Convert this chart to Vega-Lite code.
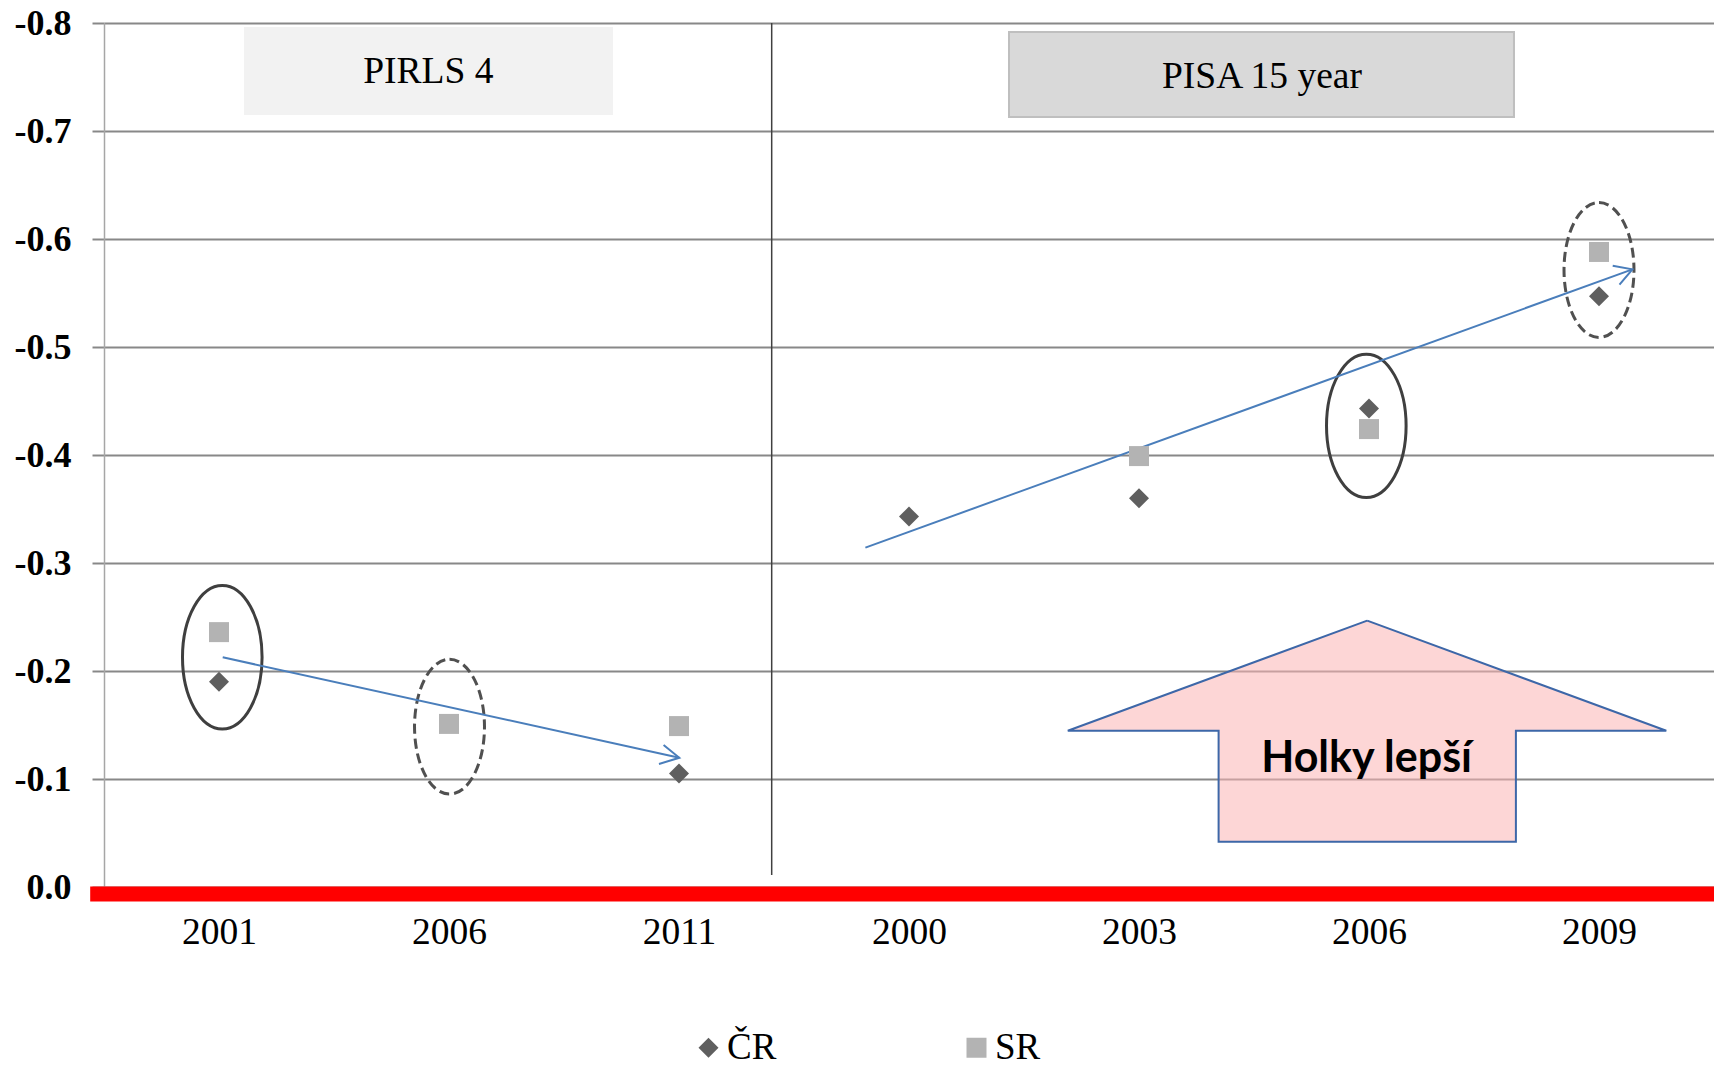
{
  "$schema": "https://vega.github.io/schema/vega-lite/v6.json",
  "width": 1610,
  "height": 864,
  "autosize": {"type": "none"},
  "padding": {"left": 104, "top": 23, "right": 0, "bottom": 179},
  "background": "white",
  "config": {"view": {"stroke": null}},
  "layer": [
    {
      "data": {"values": [
        {"study": "PIRLS", "year": "2001", "pos": 0.5, "series": "ČR", "value": -0.19},
        {"study": "PISA", "year": "2009", "pos": 6.5, "series": "SR", "value": -0.588}
      ]},
      "mark": {"type": "point", "opacity": 0, "size": 1},
      "encoding": {
        "x": {
          "field": "pos", "type": "quantitative", "title": null,
          "scale": {"domain": [0, 7], "nice": false, "zero": false},
          "axis": {
            "values": [0.5, 1.5, 2.5, 3.5, 4.5, 5.5, 6.5],
            "labelExpr": "['2001','2006','2011','2000','2003','2006','2009'][floor(datum.value)]",
            "title": null, "labelFont": "Liberation Serif", "labelFontSize": 37.5, "labelColor": "black",
            "ticks": false, "tickSize": 0, "domain": false, "grid": false, "labelPadding": 26,
            "labelFlush": false, "labelOverlap": false, "labelBound": false
          }
        },
        "y": {
          "field": "value", "type": "quantitative", "title": null,
          "scale": {"domain": [-0.8, 0], "reverse": true, "nice": false, "zero": false},
          "axis": {
            "values": [-0.8, -0.7, -0.6, -0.5, -0.4, -0.3, -0.2, -0.1, 0],
            "labelExpr": "datum.value < 0 ? '-' + format(-datum.value, '.1f') : format(datum.value, '.1f')",
            "title": null,
            "labelFont": "Liberation Serif", "labelFontWeight": "bold", "labelFontSize": 36, "labelColor": "black",
            "labelPadding": 21, "tickSize": 12, "tickColor": "#888888", "tickWidth": 2,
            "domainColor": "#a6a6a6", "domainWidth": 1.5,
            "grid": true, "gridColor": "#888888", "gridWidth": 2,
            "labelFlush": false, "labelOverlap": false, "labelBound": false
          }
        }
      }
    },
    {
      "data": {"values": [{"label": "PIRLS 4", "x0": 0.6087, "x1": 2.213, "y0": -0.7963, "y1": -0.7148}]},
      "mark": {"type": "rect", "fill": "#f2f2f2"},
      "encoding": {
        "x": {"field": "x0", "type": "quantitative", "title": null},
        "x2": {"field": "x1"},
        "y": {"field": "y0", "type": "quantitative", "title": null},
        "y2": {"field": "y1"}
      }
    },
    {
      "data": {"values": [{"label": "PISA 15 year", "x0": 3.9348, "x1": 6.1304, "y0": -0.7917, "y1": -0.713}]},
      "mark": {"type": "rect", "fill": "#d9d9d9", "stroke": "#bfbfbf", "strokeWidth": 2},
      "encoding": {
        "x": {"field": "x0", "type": "quantitative", "title": null},
        "x2": {"field": "x1"},
        "y": {"field": "y0", "type": "quantitative", "title": null},
        "y2": {"field": "y1"}
      }
    },
    {
      "data": {"values": [
        {"label": "PIRLS 4", "pos": 1.4104, "value": -0.7542},
        {"label": "PISA 15 year", "pos": 5.0348, "value": -0.75}
      ]},
      "mark": {"type": "text", "font": "Liberation Serif", "fontSize": 37.5, "color": "black", "baseline": "middle", "align": "center"},
      "encoding": {
        "x": {"field": "pos", "type": "quantitative", "title": null},
        "y": {"field": "value", "type": "quantitative", "title": null},
        "text": {"field": "label"}
      }
    },
    {
      "data": {"values": [{"pos": 2.903, "top": -0.8, "bottom": -0.011}]},
      "mark": {"type": "rule", "color": "#404040", "strokeWidth": 1.5},
      "encoding": {
        "x": {"field": "pos", "type": "quantitative", "title": null},
        "y": {"field": "top", "type": "quantitative", "title": null},
        "y2": {"field": "bottom"}
      }
    },
    {
      "data": {"values": [
        {"seq": 0, "pos": 5.4922, "value": -0.2466},
        {"seq": 1, "pos": 6.7926, "value": -0.1447},
        {"seq": 2, "pos": 6.1387, "value": -0.1447},
        {"seq": 3, "pos": 6.1387, "value": -0.0419},
        {"seq": 4, "pos": 4.8461, "value": -0.0419},
        {"seq": 5, "pos": 4.8461, "value": -0.1447},
        {"seq": 6, "pos": 4.1904, "value": -0.1447},
        {"seq": 7, "pos": 5.4922, "value": -0.2466}
      ]},
      "mark": {"type": "line", "fill": "#fcb4b4", "fillOpacity": 0.55, "stroke": "#3d67a8", "strokeWidth": 2},
      "encoding": {
        "x": {"field": "pos", "type": "quantitative", "title": null},
        "y": {"field": "value", "type": "quantitative", "title": null},
        "order": {"field": "seq", "type": "quantitative"}
      }
    },
    {
      "data": {"values": [{"label": "Holky lepší", "pos": 5.4896, "value": -0.1185}]},
      "mark": {"type": "text", "font": "Lato", "fontWeight": "bold", "fontSize": 43, "color": "black", "baseline": "middle", "align": "center"},
      "encoding": {
        "x": {"field": "pos", "type": "quantitative", "title": null},
        "y": {"field": "value", "type": "quantitative", "title": null},
        "text": {"field": "label"}
      }
    },
    {
      "data": {"values": [
        {"pos": 0.5143, "value": -0.2127},
        {"pos": 5.4883, "value": -0.427}
      ]},
      "mark": {"type": "point", "shape": "M0,-1C0.3065,-1,0.555,-0.5523,0.555,0C0.555,0.5523,0.3065,1,0,1C-0.3065,1,-0.555,0.5523,-0.555,0C-0.555,-0.5523,-0.3065,-1,0,-1Z", "size": 20564, "filled": false, "stroke": "#3f3f3f", "strokeWidth": 3, "opacity": 1},
      "encoding": {
        "x": {"field": "pos", "type": "quantitative", "title": null},
        "y": {"field": "value", "type": "quantitative", "title": null}
      }
    },
    {
      "data": {"values": [
        {"pos": 1.5022, "value": -0.1484},
        {"pos": 6.5, "value": -0.5713}
      ]},
      "mark": {"type": "point", "shape": "M0,-1C0.2866,-1,0.519,-0.5523,0.519,0C0.519,0.5523,0.2866,1,0,1C-0.2866,1,-0.519,0.5523,-0.519,0C-0.519,-0.5523,-0.2866,-1,0,-1Z", "size": 18171, "filled": false, "stroke": "#505050", "strokeWidth": 3, "strokeDash": [10, 5], "opacity": 1},
      "encoding": {
        "x": {"field": "pos", "type": "quantitative", "title": null},
        "y": {"field": "value", "type": "quantitative", "title": null}
      }
    },
    {
      "data": {"values": [
        {"seg": "PIRLS shaft", "seq": 0, "pos": 0.5161, "value": -0.2127},
        {"seg": "PIRLS shaft", "seq": 1, "pos": 2.5013, "value": -0.1197},
        {"seg": "PIRLS head", "seq": 0, "pos": 2.433, "value": -0.1315},
        {"seg": "PIRLS head", "seq": 1, "pos": 2.5013, "value": -0.1197},
        {"seg": "PIRLS head", "seq": 2, "pos": 2.413, "value": -0.1139},
        {"seg": "PISA shaft", "seq": 0, "pos": 3.3104, "value": -0.3142},
        {"seg": "PISA shaft", "seq": 1, "pos": 6.6452, "value": -0.5719},
        {"seg": "PISA head", "seq": 0, "pos": 6.5596, "value": -0.5752},
        {"seg": "PISA head", "seq": 1, "pos": 6.6452, "value": -0.5719},
        {"seg": "PISA head", "seq": 2, "pos": 6.5891, "value": -0.5578}
      ]},
      "mark": {"type": "line", "stroke": "#4a7ebb", "strokeWidth": 2},
      "encoding": {
        "x": {"field": "pos", "type": "quantitative", "title": null},
        "y": {"field": "value", "type": "quantitative", "title": null},
        "detail": {"field": "seg"},
        "order": {"field": "seq", "type": "quantitative"}
      }
    },
    {
      "data": {"values": [
        {"study": "PIRLS", "year": "2001", "pos": 0.5, "series": "ČR", "value": -0.19},
        {"study": "PIRLS", "year": "2001", "pos": 0.5, "series": "SR", "value": -0.236},
        {"study": "PIRLS", "year": "2006", "pos": 1.5, "series": "SR", "value": -0.151},
        {"study": "PIRLS", "year": "2011", "pos": 2.5, "series": "ČR", "value": -0.105},
        {"study": "PIRLS", "year": "2011", "pos": 2.5, "series": "SR", "value": -0.149},
        {"study": "PISA", "year": "2000", "pos": 3.5, "series": "ČR", "value": -0.343},
        {"study": "PISA", "year": "2003", "pos": 4.5, "series": "ČR", "value": -0.36},
        {"study": "PISA", "year": "2003", "pos": 4.5, "series": "SR", "value": -0.399},
        {"study": "PISA", "year": "2006", "pos": 5.5, "series": "ČR", "value": -0.443},
        {"study": "PISA", "year": "2006", "pos": 5.5, "series": "SR", "value": -0.424},
        {"study": "PISA", "year": "2009", "pos": 6.5, "series": "ČR", "value": -0.547},
        {"study": "PISA", "year": "2009", "pos": 6.5, "series": "SR", "value": -0.588}
      ]},
      "mark": {"type": "point", "filled": true, "opacity": 1, "size": 400, "strokeWidth": 0},
      "encoding": {
        "x": {"field": "pos", "type": "quantitative", "title": null},
        "y": {"field": "value", "type": "quantitative", "title": null},
        "color": {
          "field": "series", "type": "nominal",
          "scale": {"domain": ["ČR", "SR"], "range": ["#5f5f5f", "#b3b3b3"]},
          "legend": {"orient": "none", "legendX": 586, "legendY": 1006, "direction": "horizontal", "title": null,
            "labelFont": "Liberation Serif", "labelFontSize": 37, "labelColor": "black", "symbolSize": 400,
            "symbolStrokeWidth": 0, "columnPadding": 181, "labelOffset": 0, "padding": 0, "symbolOpacity": 1}
        },
        "shape": {
          "field": "series", "type": "nominal",
          "scale": {"domain": ["ČR", "SR"], "range": ["diamond", "square"]},
          "legend": {"orient": "none", "legendX": 586, "legendY": 1006, "direction": "horizontal", "title": null,
            "labelFont": "Liberation Serif", "labelFontSize": 37, "labelColor": "black", "symbolSize": 400,
            "symbolStrokeWidth": 0, "columnPadding": 181, "labelOffset": 0, "padding": 0, "symbolOpacity": 1}
        }
      }
    },
    {
      "data": {"values": [{"from": -0.06, "to": 7, "value": 0}]},
      "mark": {"type": "rule", "color": "#ff0000", "strokeWidth": 15, "yOffset": 7},
      "encoding": {
        "x": {"field": "from", "type": "quantitative", "title": null},
        "x2": {"field": "to"},
        "y": {"field": "value", "type": "quantitative", "title": null}
      }
    }
  ]
}
